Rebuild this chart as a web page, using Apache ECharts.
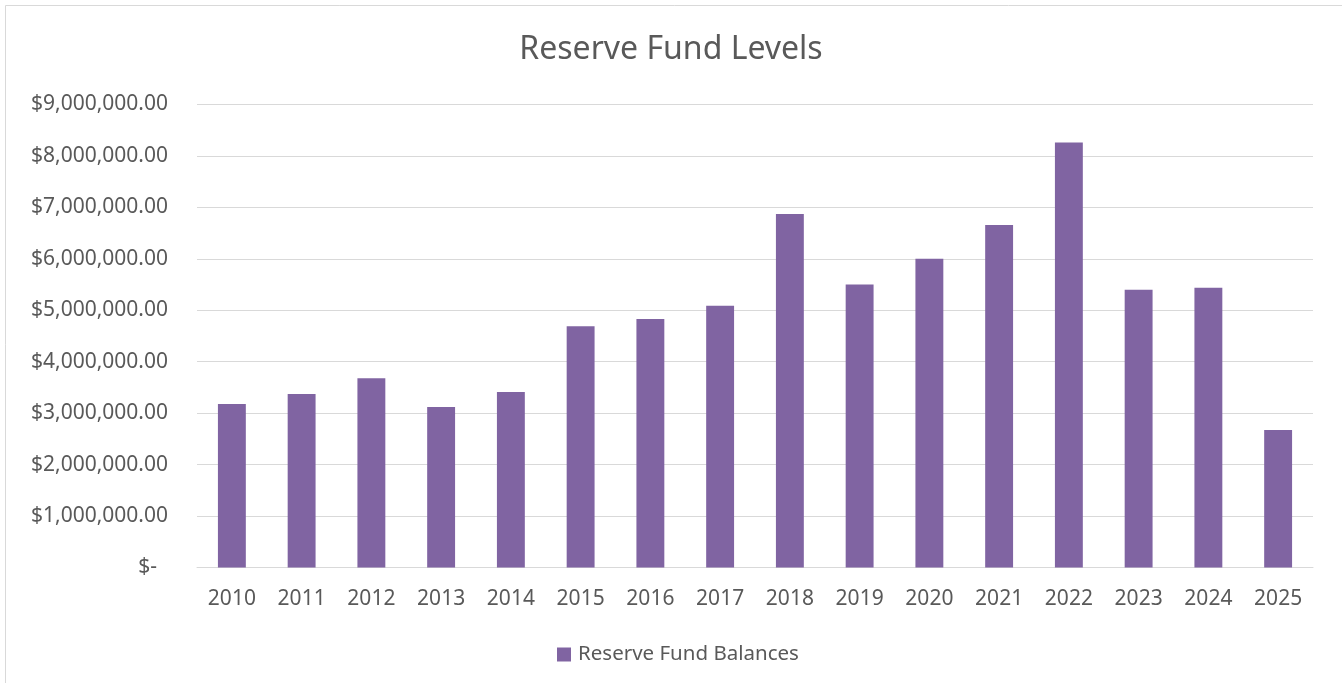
<!DOCTYPE html>
<html>
<head>
<meta charset="utf-8">
<script src="https://cdn.jsdelivr.net/npm/echarts@6/dist/echarts.min.js"></script>
<style>
html,body{margin:0;padding:0;background:#fff;}
#c{width:1342px;height:683px;}
</style>
</head>
<body>
<div id="c"></div>
<script>
const categories = ['2010','2011','2012','2013','2014','2015','2016','2017','2018','2019','2020','2021','2022','2023','2024','2025'];
const reserveBalances = [3180000, 3375000, 3680000, 3120000, 3410000, 4690000, 4830000, 5090000, 6870000, 5500000, 6000000, 6660000, 8260000, 5400000, 5440000, 2675000];
const yTickLabels = ['$-', '$1,000,000.00', '$2,000,000.00', '$3,000,000.00', '$4,000,000.00', '$5,000,000.00', '$6,000,000.00', '$7,000,000.00', '$8,000,000.00', '$9,000,000.00'];

const FONT = 'Noto Sans';
const TXT = '#595959';
const chart = echarts.init(document.getElementById('c'), null, {renderer: 'canvas'});
chart.setOption({
  animation: false,
  backgroundColor: '#fff',
  graphic: [{
    type: 'rect', silent: true,
    shape: {x: 5.5, y: 5.5, width: 1340, height: 700},
    style: {fill: 'none', stroke: '#D9D9D9', lineWidth: 1}
  }],
  title: {
    text: 'Reserve Fund Levels',
    left: 'center', top: 29,
    textStyle: {fontFamily: FONT, fontSize: 32, fontWeight: 'normal', color: TXT}
  },
  legend: {
    bottom: 13, left: 552,
    itemWidth: 14, itemHeight: 14, itemGap: 10,
    icon: 'rect',
    textStyle: {fontFamily: FONT, fontSize: 20.5, color: TXT, padding: [0,0,0,2]},
    data: ['Reserve Fund Balances']
  },
  grid: {left: 197, right: 29, top: 104.5, bottom: 115.5, containLabel: false},
  xAxis: {
    type: 'category',
    data: categories,
    axisLine: {lineStyle: {color: '#D9D9D9', width: 1}},
    axisTick: {show: false},
    axisLabel: {fontFamily: FONT, fontSize: 21, color: TXT, margin: 21.5}
  },
  yAxis: {
    type: 'value',
    min: 0, max: 9000000, interval: 1000000,
    axisLine: {show: false},
    axisTick: {show: false},
    splitLine: {lineStyle: {color: '#D9D9D9', width: 1}},
    axisLabel: {
      fontFamily: FONT, fontSize: 21, color: TXT, margin: 29,
      formatter: function (v) {
        const i = Math.round(v / 1000000);
        const s = yTickLabels[i];
        return i === 0 ? '{z|' + s + '}' : s;
      },
      rich: {z: {fontFamily: FONT, fontSize: 21, color: TXT, padding: [0, 11, 0, 0]}}
    }
  },
  series: [{
    name: 'Reserve Fund Balances',
    type: 'bar',
    data: reserveBalances,
    barCategoryGap: '60%',
    itemStyle: {color: '#8064A2'}
  }]
});
</script>
</body>
</html>
